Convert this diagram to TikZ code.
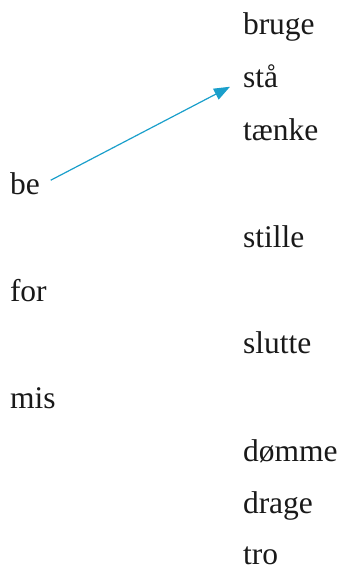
\documentclass[tikz,border=0pt]{standalone}
\usepackage{fontspec}
\setmainfont{Liberation Serif}
\usetikzlibrary{arrows.meta}
\definecolor{arrowblue}{HTML}{1A9FCB}
\begin{document}
\begin{tikzpicture}[x=1pt,y=-1pt,
  word/.style={anchor=base west,inner sep=0pt,outer sep=0pt,font=\fontsize{31.5}{36}\selectfont,text=black!90},
  link/.style={draw=arrowblue,line width=1.2pt,-{Triangle[length=16pt,width=12pt]}}]
\useasboundingbox (0,0) rectangle (344,572);
\node[word] (bruge) at (243,35) {bruge};
\node[word] (staa) at (243,88) {stå};
\node[word] (taenke) at (243,141) {tænke};
\node[word] (stille) at (243,247) {stille};
\node[word] (slutte) at (243,353) {slutte};
\node[word] (doemme) at (243,461) {dømme};
\node[word] (drage) at (243,513) {drage};
\node[word] (tro) at (243,564) {tro};
\node[word] (be) at (10,194) {be};
\node[word] (for) at (10,301) {for};
\node[word] (mis) at (10,408) {mis};
\draw[link] ([shift={(11,-3)}]be.east) -- ([shift={(-13,10)}]staa.west);
\end{tikzpicture}
\end{document}
